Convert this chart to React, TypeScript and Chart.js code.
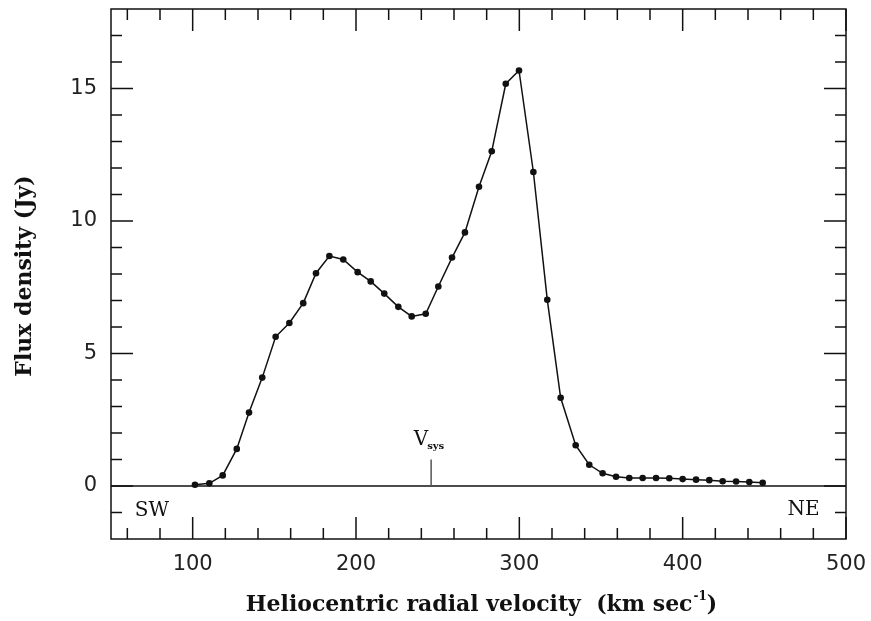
import React, { useEffect, useRef } from 'react';
import { Chart, registerables } from 'chart.js';

Chart.register(...registerables);

// Heliocentric radial velocity (km/s) of each channel
const velocity = [
  101.4, 110.2, 118.4, 127.0, 134.5, 142.6, 150.8, 159.2, 167.7, 175.5,
  183.7, 192.2, 201.0, 209.0, 217.3, 225.9, 234.1, 242.7, 250.4, 258.8,
  266.7, 275.3, 283.1, 291.7, 299.8, 308.6, 317.1, 325.3, 334.5, 342.8,
  351.0, 359.2, 367.3, 375.5, 383.7, 391.8, 400.0, 408.2, 416.3, 424.5,
  432.7, 440.8, 449.0,
];
// Flux density (Jy)
const flux = [
  0.05, 0.1, 0.4, 1.4, 2.77, 4.09, 5.63, 6.15, 6.9, 8.03,
  8.68, 8.55, 8.07, 7.72, 7.26, 6.76, 6.4, 6.5, 7.53, 8.62,
  9.57, 11.29, 12.63, 15.18, 15.68, 11.85, 7.03, 3.33, 1.54, 0.8,
  0.48, 0.35, 0.3, 0.3, 0.3, 0.29, 0.26, 0.24, 0.22, 0.18,
  0.17, 0.15, 0.12,
];

const xMajorTicks = [100, 200, 300, 400, 500];
const xMinorTicks = [60, 80, 120, 140, 160, 180, 220, 240, 260, 280, 320, 340, 360, 380, 420, 440, 460, 480];
const yMajorTicks = [0, 5, 10, 15];
const yMinorTicks = [-1, 1, 2, 3, 4, 6, 7, 8, 9, 11, 12, 13, 14, 16, 17];

const xRange = [50, 500];
const yRange = [-2, 18];

const vSys = 246;
const vSysMarkHeight = 1.0;

const serif = '"DejaVu Serif", serif';

const decorPlugin = {
  id: 'decor',
  beforeDatasetsDraw(chart: any) {
    const { ctx, chartArea, scales } = chart;
    const xs = scales.x;
    const ys = scales.y;
    ctx.save();
    ctx.strokeStyle = '#111';
    ctx.lineWidth = 1.5;
    // zero line
    const y0 = ys.getPixelForValue(0);
    ctx.beginPath();
    ctx.moveTo(chartArea.left, y0);
    ctx.lineTo(chartArea.right, y0);
    ctx.stroke();
    // Vsys marker
    const xv = xs.getPixelForValue(vSys);
    ctx.strokeStyle = '#555';
    ctx.beginPath();
    ctx.moveTo(xv, y0);
    ctx.lineTo(xv, ys.getPixelForValue(vSysMarkHeight));
    ctx.stroke();
    ctx.restore();
  },
  afterDraw(chart: any) {
    const { ctx, chartArea, scales } = chart;
    const xs = scales.x;
    const ys = scales.y;
    const { left, right, top, bottom } = chartArea;
    ctx.save();
    ctx.strokeStyle = '#111';
    ctx.lineWidth = 1.5;
    // frame
    ctx.strokeRect(left, top, right - left, bottom - top);
    const majorLen = 22;
    const minorLen = 11;
    const drawX = (vals: number[], len: number) => {
      vals.forEach((v) => {
        const p = xs.getPixelForValue(v);
        ctx.beginPath();
        ctx.moveTo(p, bottom);
        ctx.lineTo(p, bottom - len);
        ctx.moveTo(p, top);
        ctx.lineTo(p, top + len);
        ctx.stroke();
      });
    };
    const drawY = (vals: number[], len: number) => {
      vals.forEach((v) => {
        const p = ys.getPixelForValue(v);
        ctx.beginPath();
        ctx.moveTo(left, p);
        ctx.lineTo(left + len, p);
        ctx.moveTo(right, p);
        ctx.lineTo(right - len, p);
        ctx.stroke();
      });
    };
    drawX(xMajorTicks, majorLen);
    drawX(xMinorTicks, minorLen);
    drawY(yMajorTicks, majorLen);
    drawY(yMinorTicks, minorLen);

    ctx.fillStyle = '#111';
    // SW / NE
    ctx.font = `20px ${serif}`;
    ctx.textAlign = 'center';
    ctx.textBaseline = 'middle';
    const yLab = ys.getPixelForValue(-0.95);
    ctx.fillText('SW', xs.getPixelForValue(75), yLab);
    ctx.fillText('NE', xs.getPixelForValue(474), yLab - 1);

    // Vsys label
    const xv = xs.getPixelForValue(vSys);
    const yv = ys.getPixelForValue(vSysMarkHeight);
    ctx.font = `20px ${serif}`;
    ctx.textAlign = 'right';
    ctx.textBaseline = 'alphabetic';
    ctx.fillText('V', xv - 3, yv - 15);
    ctx.font = `bold 10px ${serif}`;
    ctx.textAlign = 'left';
    ctx.fillText('sys', xv - 4, yv - 11);

    // y title
    ctx.save();
    ctx.font = `bold 22px ${serif}`;
    ctx.textAlign = 'center';
    ctx.textBaseline = 'middle';
    ctx.translate(25, 276);
    ctx.rotate(-Math.PI / 2);
    ctx.fillText('Flux density (Jy)', 0, 0);
    ctx.restore();

    // x title with superscript
    const main = 'Heliocentric radial velocity  (km sec';
    const sup = '-1';
    const close = ')';
    const mainFont = `bold 22px ${serif}`;
    const supFont = `bold 12px ${serif}`;
    ctx.font = mainFont;
    const wMain = ctx.measureText(main).width;
    const wClose = ctx.measureText(close).width;
    ctx.font = supFont;
    const wSup = ctx.measureText(sup).width;
    const total = wMain + wSup + wClose;
    const cx = 481;
    const x0 = cx - total / 2;
    const base = 611;
    ctx.textAlign = 'left';
    ctx.textBaseline = 'alphabetic';
    ctx.font = mainFont;
    ctx.fillText(main, x0, base);
    ctx.font = supFont;
    ctx.fillText(sup, x0 + wMain + 1, base - 11);
    ctx.font = mainFont;
    ctx.fillText(close, x0 + wMain + wSup + 1, base);
    ctx.restore();
  },
};

const zeroPad = (s: any) => {
  s.paddingTop = 0;
  s.paddingBottom = 0;
  s.paddingLeft = 0;
  s.paddingRight = 0;
};

export default function App() {
  const ref = useRef<HTMLCanvasElement>(null);
  useEffect(() => {
    if (!ref.current) return;
    const data = velocity.map((v, i) => ({ x: v, y: flux[i] }));
    const chart = new Chart(ref.current, {
      type: 'line',
      data: {
        datasets: [
          {
            data,
            borderColor: '#111',
            borderWidth: 1.5,
            pointRadius: 3.3,
            pointBackgroundColor: '#111',
            pointBorderColor: '#111',
            pointBorderWidth: 0,
            tension: 0,
            fill: false,
          },
        ],
      },
      options: {
        animation: false,
        responsive: false,
        devicePixelRatio: 1,
        layout: { padding: { top: 9, right: 25, left: 0, bottom: 0 } },
        plugins: { legend: { display: false }, tooltip: { enabled: false } },
        scales: {
          x: {
            type: 'linear',
            min: xRange[0],
            max: xRange[1],
            grid: { display: false, drawTicks: false },
            border: { display: false },
            afterBuildTicks: (s: any) => {
              s.ticks = xMajorTicks.map((v) => ({ value: v }));
            },
            afterFit: (s: any) => {
              s.height = 82;
              zeroPad(s);
            },
            ticks: {
              padding: 13,
              color: '#222',
              font: { family: '"DejaVu Sans", sans-serif', size: 21 },
              maxRotation: 0,
              autoSkip: false,
            },
          },
          y: {
            type: 'linear',
            min: yRange[0],
            max: yRange[1],
            grid: { display: false, drawTicks: false },
            border: { display: false },
            afterBuildTicks: (s: any) => {
              s.ticks = yMajorTicks.map((v) => ({ value: v }));
            },
            afterFit: (s: any) => {
              s.width = 111;
              zeroPad(s);
            },
            ticks: {
              padding: 14,
              color: '#222',
              font: { family: '"DejaVu Sans", sans-serif', size: 21 },
              autoSkip: false,
            },
          },
        },
      },
      plugins: [decorPlugin],
    });
    return () => chart.destroy();
  }, []);
  return (
    <div style={{ position: 'absolute', left: 0, top: 0, width: 871, height: 621, background: '#fff' }}>
      <canvas ref={ref} width={871} height={621} />
    </div>
  );
}
